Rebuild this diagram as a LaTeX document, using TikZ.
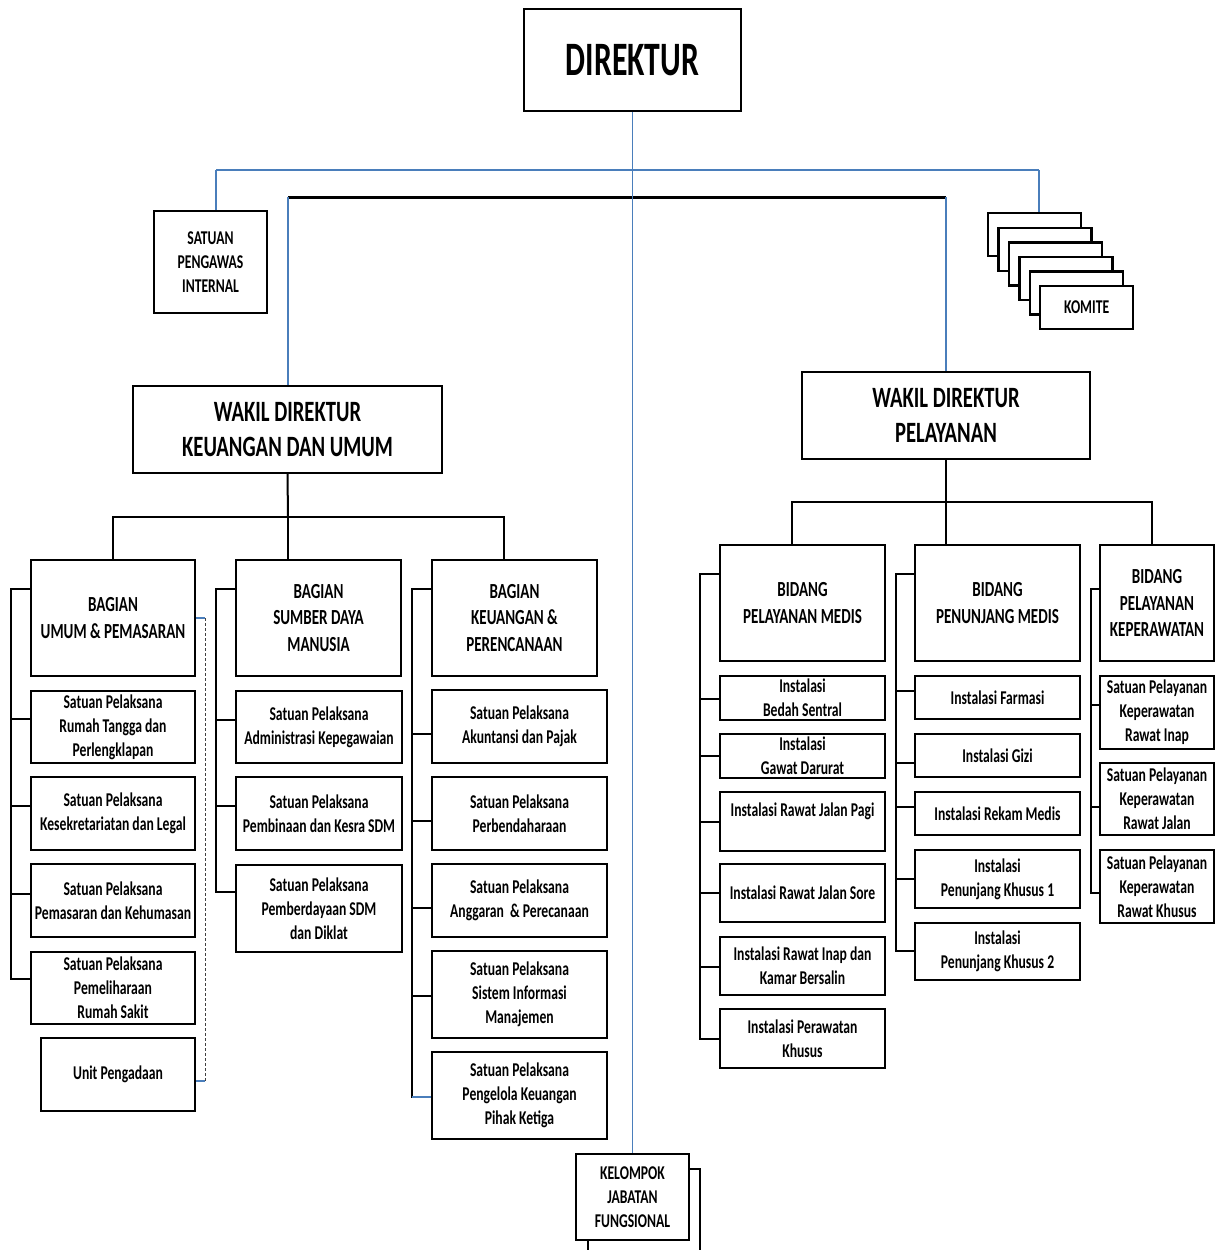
\documentclass[tikz,border=0pt]{standalone}
\usepackage{fontspec}
\setmainfont{Carlito}[FakeStretch=0.70]
\newfontfamily\dirfont{Carlito}[FakeStretch=0.66]
\definecolor{lineblue}{RGB}{74,126,187}
\begin{document}
\begin{tikzpicture}[x=1pt,y=-1pt,
  box/.style={draw, line width=2.3pt, fill=white, inner sep=0pt, align=center,
    font=\bfseries\fontsize{19.5}{24}\selectfont},
  big/.style={font=\bfseries\fontsize{21.5}{26.5}\selectfont},
  wak/.style={font=\bfseries\fontsize{29.5}{35}\selectfont},
  dirf/.style={font=\dirfont\bfseries\fontsize{48}{56}\selectfont},
  con/.style={line width=2pt, line cap=rect},
  blu/.style={line width=1.5pt, draw=lineblue},
]
\clip (0,0) rectangle (1222,1250);
\fill[white] (0,0) rectangle (1222,1250);

% ---------- top level ----------
\node[box, dirf, minimum width=217pt, minimum height=102pt] (dir) at (632.5,60) {DIREKTUR};
\node[box, minimum width=113pt, minimum height=102pt] (spi) at (210.5,262) {SATUAN\\PENGAWAS\\INTERNAL};
\foreach \i in {0,...,4}{
  \node[box, minimum width=93pt, minimum height=43pt, anchor=north west] (km\i) at ({987+10.4*\i},{212+14.6*\i}) {};
}
\node[box, minimum width=93pt, minimum height=43pt, anchor=north west] (km5) at (1039,285) {KOMITE};

\node[box, wak, minimum width=309pt, minimum height=87pt] (wk) at (287.5,429.5) {WAKIL DIREKTUR\\KEUANGAN DAN UMUM};
\node[box, wak, minimum width=288pt, minimum height=87pt] (wp) at (946,415.5) {WAKIL DIREKTUR\\PELAYANAN};

% ---------- bagian ----------
\node[box, big, minimum width=164pt, minimum height=116pt] (bu) at (113,618) {BAGIAN\\UMUM \& PEMASARAN};
\node[box, big, minimum width=165pt, minimum height=116pt] (bs) at (318.5,618) {BAGIAN\\SUMBER DAYA\\MANUSIA};
\node[box, big, minimum width=165pt, minimum height=116pt] (bk) at (514.5,618) {BAGIAN\\KEUANGAN \&\\PERENCANAAN};

\node[box, minimum width=164pt, minimum height=72pt] (u1) at (113,727) {Satuan Pelaksana\\Rumah Tangga dan\\Perlengklapan};
\node[box, minimum width=164pt, minimum height=73pt] (u2) at (113,813.5) {Satuan Pelaksana\\Kesekretariatan dan Legal};
\node[box, minimum width=164pt, minimum height=73pt] (u3) at (113,900.5) {Satuan Pelaksana\\Pemasaran dan Kehumasan};
\node[box, minimum width=164pt, minimum height=72pt] (u4) at (113,988) {Satuan Pelaksana\\Pemeliharaan\\Rumah Sakit};
\node[box, minimum width=154pt, minimum height=73pt] (up) at (118,1074.5) {Unit Pengadaan};

\node[box, minimum width=166pt, minimum height=72pt] (s1) at (319,727) {Satuan Pelaksana\\Administrasi Kepegawaian};
\node[box, minimum width=166pt, minimum height=73pt] (s2) at (319,813.5) {Satuan Pelaksana\\Pembinaan dan Kesra SDM};
\node[box, minimum width=166pt, minimum height=87pt] (s3) at (319,908.5) {Satuan Pelaksana\\Pemberdayaan SDM\\dan Diklat};

\node[box, minimum width=175pt, minimum height=73pt] (f1) at (519.5,726.5) {Satuan Pelaksana\\Akuntansi dan Pajak};
\node[box, minimum width=175pt, minimum height=73pt] (f2) at (519.5,813.5) {Satuan Pelaksana\\Perbendaharaan};
\node[box, minimum width=175pt, minimum height=73pt] (f3) at (519.5,900.5) {Satuan Pelaksana\\Anggaran\ \ \& Perecanaan};
\node[box, minimum width=175pt, minimum height=87pt] (f4) at (519.5,994.5) {Satuan Pelaksana\\Sistem Informasi\\Manajemen};
\node[box, minimum width=175pt, minimum height=87pt] (f5) at (519.5,1095.5) {Satuan Pelaksana\\Pengelola Keuangan\\Pihak Ketiga};

% ---------- bidang ----------
\node[box, big, minimum width=165pt, minimum height=116pt] (bm) at (802.5,603) {BIDANG\\PELAYANAN MEDIS};
\node[box, big, minimum width=165pt, minimum height=116pt] (bp) at (997.5,603) {BIDANG\\PENUNJANG MEDIS};
\node[box, big, minimum width=114pt, minimum height=116pt] (bkp) at (1157,603) {BIDANG\\PELAYANAN\\KEPERAWATAN};

\node[box, minimum width=165pt, minimum height=44pt] (m1) at (802.5,698) {Instalasi\\Bedah Sentral};
\node[box, minimum width=165pt, minimum height=44pt] (m2) at (802.5,756) {Instalasi\\Gawat Darurat};
\node[box, minimum width=165pt, minimum height=59pt] (m3) at (802.5,821.5) {Instalasi Rawat Jalan Pagi\\\mbox{}};
\node[box, minimum width=165pt, minimum height=58pt] (m4) at (802.5,893) {Instalasi Rawat Jalan Sore};
\node[box, minimum width=165pt, minimum height=58pt] (m5) at (802.5,966) {Instalasi Rawat Inap dan\\Kamar Bersalin};
\node[box, minimum width=165pt, minimum height=59pt] (m6) at (802.5,1038.5) {Instalasi Perawatan\\Khusus};

\node[box, minimum width=165pt, minimum height=43pt] (p1) at (997.5,697.5) {Instalasi Farmasi};
\node[box, minimum width=165pt, minimum height=43pt] (p2) at (997.5,755.5) {Instalasi Gizi};
\node[box, minimum width=165pt, minimum height=43pt] (p3) at (997.5,813.5) {Instalasi Rekam Medis};
\node[box, minimum width=165pt, minimum height=58pt] (p4) at (997.5,879) {Instalasi\\Penunjang Khusus 1};
\node[box, minimum width=165pt, minimum height=57pt] (p5) at (997.5,951.5) {Instalasi\\Penunjang Khusus 2};

\node[box, minimum width=114pt, minimum height=73pt] (r1) at (1157,712.5) {Satuan Pelayanan\\Keperawatan\\Rawat Inap};
\node[box, minimum width=114pt, minimum height=72pt] (r2) at (1157,799) {Satuan Pelayanan\\Keperawatan\\Rawat Jalan};
\node[box, minimum width=114pt, minimum height=73pt] (r3) at (1157,886.5) {Satuan Pelayanan\\Keperawatan\\Rawat Khusus};

% ---------- kelompok jabatan fungsional ----------
\node[box, minimum width=112pt, minimum height=110pt, anchor=north west] (kjs) at (587,1168) {};
\node[box, minimum width=113pt, minimum height=86pt] (kjf) at (632.5,1197) {KELOMPOK\\JABATAN\\FUNGSIONAL};

% ---------- connectors: top ----------
\coordinate (tl) at (216,170);
\coordinate (tr) at (1039,170);
\draw[blu] (tl) -- (tr);
\draw[blu] (tl) -- (tl |- spi.north);
\draw[blu] (tr) -- (tr |- km0.north);
\coordinate (bl) at (288,197);
\coordinate (br) at (946,197);
\draw[line width=3pt] (bl) -- (br);
\draw[blu] (bl) -- (bl |- wk.north);
\draw[blu] (br) -- (br |- wp.north);
\draw[blu] (dir.south) -- (kjf.north);

% ---------- connectors: keuangan dan umum ----------
\coordinate (wkb) at (288,517);
\coordinate (wkl) at (113,517);
\coordinate (wkr) at (504,517);
\draw[con] (wk.south) -- (wkb);
\draw[con] (wkl) -- (wkr);
\draw[con] (wkl) -- (wkl |- bu.north);
\draw[con] (wkb) -- (wkb |- bs.north);
\draw[con] (wkr) -- (wkr |- bk.north);

\draw[con] (10.5,589) -- (10.5,979);
\draw[con] (10.5,589) -- (bu.west |- 0,589);
\draw[con] (10.5,719) -- (u1.west |- 0,719);
\draw[con] (10.5,806) -- (u2.west |- 0,806);
\draw[con] (10.5,894) -- (u3.west |- 0,894);
\draw[con] (10.5,979) -- (u4.west |- 0,979);

\draw[con] (216,589) -- (216,892);
\draw[con] (216,589) -- (bs.west |- 0,589);
\draw[con] (216,720) -- (s1.west |- 0,720);
\draw[con] (216,806) -- (s2.west |- 0,806);
\draw[con] (216,892) -- (s3.west |- 0,892);

\draw[con] (411.5,589) -- (411.5,1097);
\draw[con] (411.5,589) -- (bk.west |- 0,589);
\draw[con] (411.5,734) -- (f1.west |- 0,734);
\draw[con] (411.5,821) -- (f2.west |- 0,821);
\draw[con] (411.5,908) -- (f3.west |- 0,908);
\draw[con] (411.5,996) -- (f4.west |- 0,996);
\draw[blu] (411.5,1097) -- (f5.west |- 0,1097);

% dashed link to Unit Pengadaan
\draw[blu] (bu.east |- 0,618) -- (205,618);
\draw[line width=1pt, dash pattern=on 3pt off 2pt, draw=black!75] (205,618) -- (205,1081);
\draw[blu] (205,1081) -- (up.east |- 0,1081);

% ---------- connectors: pelayanan ----------
\coordinate (wpb) at (946,502);
\coordinate (wpl) at (792,502);
\coordinate (wpr) at (1152,502);
\draw[con] (wp.south) -- (wpb);
\draw[con] (wpl) -- (wpr);
\draw[con] (wpl) -- (wpl |- bm.north);
\draw[con] (wpb) -- (wpb |- bp.north);
\draw[con] (wpr) -- (wpr |- bkp.north);

\draw[con] (700,574) -- (700,1039);
\draw[con] (700,574) -- (bm.west |- 0,574);
\draw[con] (700,699) -- (m1.west |- 0,699);
\draw[con] (700,756) -- (m2.west |- 0,756);
\draw[con] (700,822) -- (m3.west |- 0,822);
\draw[con] (700,893) -- (m4.west |- 0,893);
\draw[con] (700,967) -- (m5.west |- 0,967);
\draw[con] (700,1039) -- (m6.west |- 0,1039);

\draw[con] (895.5,574) -- (895.5,951);
\draw[con] (895.5,574) -- (bp.west |- 0,574);
\draw[con] (895.5,691) -- (p1.west |- 0,691);
\draw[con] (895.5,763) -- (p2.west |- 0,763);
\draw[con] (895.5,807) -- (p3.west |- 0,807);
\draw[con] (895.5,879) -- (p4.west |- 0,879);
\draw[con] (895.5,951) -- (p5.west |- 0,951);

\draw[con] (1091,589) -- (1091,893);
\draw[con] (1091,589) -- (bkp.west |- 0,589);
\draw[con] (1091,705) -- (r1.west |- 0,705);
\draw[con] (1091,807) -- (r2.west |- 0,807);
\draw[con] (1091,893) -- (r3.west |- 0,893);
\end{tikzpicture}
\end{document}
